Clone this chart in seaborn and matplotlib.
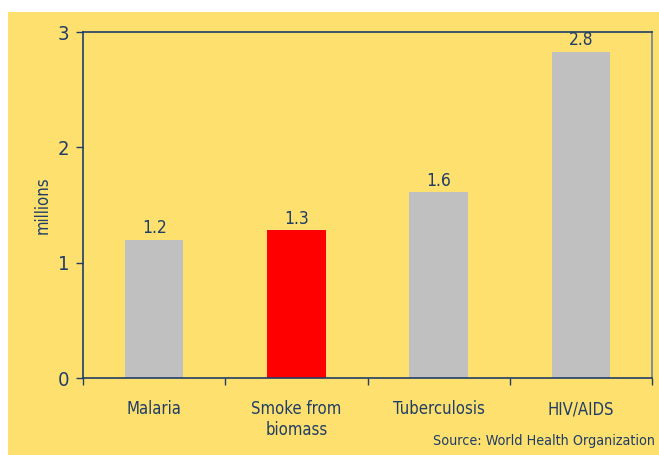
import matplotlib
matplotlib.use("Agg")
import matplotlib.pyplot as plt
from matplotlib.patches import Rectangle
import seaborn as sns
import pandas as pd

# data
causes = ["Malaria", "Smoke from\nbiomass", "Tuberculosis", "HIV/AIDS"]
deaths = [1.2, 1.28, 1.61, 2.83]
value_labels = ["1.2", "1.3", "1.6", "2.8"]
bar_colors = ["#C0C0C0", "#FF0000", "#C0C0C0", "#C0C0C0"]
y_ticks = [0, 1, 2, 3]

navy = "#1F3D66"
yellow = "#FEE06F"

sns.set_style("white")
plt.rcParams["font.family"] = ["DejaVu Sans"]
plt.rcParams["font.stretch"] = "condensed"

df = pd.DataFrame({"cause": causes, "deaths": deaths})

fig = plt.figure(figsize=(6.59, 4.55), dpi=100, facecolor="white")
# yellow backdrop, leaving a white strip at top and left
fig.patches.append(Rectangle((8 / 659, 0), 1, 1 - 12 / 455, transform=fig.transFigure,
                             facecolor=yellow, edgecolor="none", zorder=-10))
ax = fig.add_axes([83 / 659, 77 / 455, (652 - 83) / 659, (378 - 32) / 455])
ax.set_facecolor(yellow)

sns.barplot(data=df, x="cause", y="deaths", hue="cause", palette=bar_colors,
            width=0.41, legend=False, ax=ax, saturation=1, linewidth=0)

for cont, lab in zip(ax.containers, value_labels):
    ax.bar_label(cont, labels=[lab], padding=2, color=navy, fontsize=12.5)

ax.set_xlim(-0.5, len(causes) - 0.5)
ax.set_ylim(0, 3)
ax.set_yticks(y_ticks)
ax.set_xticks(range(len(causes)))
ax.set_xticks([i - 0.5 for i in range(len(causes) + 1)], minor=True)
ax.tick_params(axis="x", which="major", length=0, pad=16, labelsize=12, labelcolor=navy)
ax.tick_params(axis="x", which="minor", length=5, width=1, color=navy, direction="out", bottom=True)
ax.tick_params(axis="y", length=5, width=1, color=navy, direction="out", left=True,
               labelsize=14.5, labelcolor=navy, pad=5)

for side in ["left", "bottom", "top"]:
    ax.spines[side].set_color(navy)
    ax.spines[side].set_linewidth(1.2)
ax.spines["right"].set_color("#6F7F8F")
ax.spines["right"].set_linewidth(1.2)

ax.set_xlabel("")
ax.set_ylabel("millions", color=navy, fontsize=12, labelpad=4)

fig.text(655 / 659, 1 - 441 / 455, "Source: World Health Organization", ha="right", va="center",
         color=navy, fontsize=10.25)

fig.savefig("out.png", dpi=100, facecolor="white")
